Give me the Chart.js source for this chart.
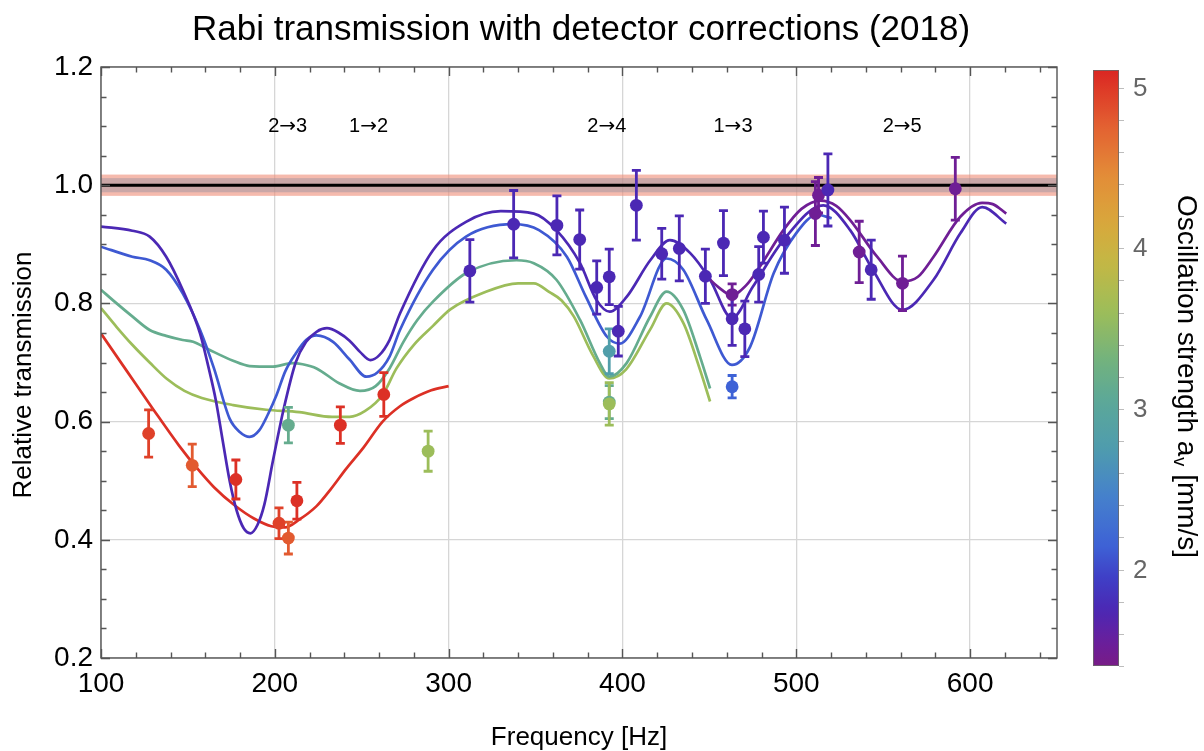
<!DOCTYPE html>
<html>
<head>
<meta charset="utf-8">
<script src="https://cdn.jsdelivr.net/npm/chart.js@4.4.1/dist/chart.umd.min.js"></script>
<style>
  html, body { margin: 0; padding: 0; background: #ffffff; }
  #wrap { width: 1204px; height: 751px; position: relative; }
</style>
</head>
<body>
<div id="wrap"><canvas id="chart"></canvas></div>
<script>
const FONT = '"Liberation Sans", Arial, Helvetica, sans-serif';
const ARROW_FONT = '"DejaVu Sans", sans-serif';

// ---- measured transmission points ----
const pointFreq     = [127.4, 152.5, 177.6, 202.4, 207.8, 212.7, 237.7, 262.7,
                       207.8, 288.2, 392.4, 392.4, 392.4, 463.1,
                       312.2, 337.4, 362.3, 375.4, 385.2, 392.4, 397.6, 408.0, 422.6, 432.7,
                       447.7, 458.1, 463.1, 463.1, 470.4, 478.4, 481.1, 493.2,
                       511.0, 512.8, 518.2, 536.2, 543.1, 561.1, 591.5];
const pointTrans    = [0.580, 0.526, 0.502, 0.428, 0.403, 0.466, 0.594, 0.646,
                       0.594, 0.550, 0.719, 0.633, 0.630, 0.659,
                       0.855, 0.934, 0.932, 0.908, 0.827, 0.845, 0.753, 0.966, 0.884, 0.893,
                       0.846, 0.902, 0.815, 0.774, 0.757, 0.849, 0.912, 0.907,
                       0.952, 0.983, 0.992, 0.887, 0.857, 0.834, 0.994];
const pointErr      = [0.040, 0.036, 0.033, 0.026, 0.027, 0.031, 0.031, 0.037,
                       0.030, 0.034, 0.038, 0.028, 0.036, 0.019,
                       0.053, 0.057, 0.050, 0.050, 0.045, 0.047, 0.042, 0.059, 0.043, 0.055,
                       0.046, 0.055, 0.018, 0.045, 0.047, 0.047, 0.044, 0.056,
                       0.054, 0.030, 0.061, 0.052, 0.050, 0.046, 0.053];
const pointStrength = [4.95, 4.80, 5.05, 4.95, 4.80, 5.05, 5.05, 5.05,
                       3.15, 3.60, 2.80, 3.15, 3.60, 2.15,
                       1.75, 1.75, 1.75, 1.75, 1.75, 1.75, 1.75, 1.75, 1.75, 1.75,
                       1.75, 1.75, 1.50, 1.75, 1.75, 1.75, 1.75, 1.75,
                       1.50, 1.50, 1.75, 1.50, 1.75, 1.50, 1.50];

// ---- model curves, one per oscillation strength ----
const redFreq   = [100, 115, 130, 145, 155, 165, 177, 188, 198, 206, 214, 224, 232, 241, 251, 262, 272, 280, 290, 300];
const redTrans  = [0.749, 0.685, 0.621, 0.559, 0.522, 0.489, 0.458, 0.436, 0.423, 0.421, 0.434, 0.457, 0.485, 0.520, 0.556, 0.600, 0.626, 0.640, 0.653, 0.660];

const yellowFreq  = [100, 109, 118, 128, 138, 148, 158, 176, 195, 214, 233, 243, 252, 262, 270, 280, 291, 301, 320, 340, 349, 358, 365, 372, 383, 392.4, 402, 416, 425.4, 435, 444.6, 450.4];
const yellowTrans = [0.792, 0.760, 0.730, 0.700, 0.672, 0.652, 0.640, 0.628, 0.620, 0.616, 0.608, 0.608, 0.618, 0.645, 0.690, 0.730, 0.762, 0.790, 0.818, 0.834, 0.834, 0.819, 0.805, 0.778, 0.712, 0.673, 0.688, 0.756, 0.800, 0.767, 0.688, 0.634];

const tealFreq  = [100, 109, 118, 128, 137.5, 147, 153, 162, 176, 185.5, 199, 210, 216, 224, 237, 249, 258, 266, 274, 282, 291, 310, 339, 349, 362, 375.6, 387, 392.4, 402.4, 415.8, 425.4, 435, 444.6, 450.4];
const tealTrans = [0.823, 0.800, 0.778, 0.755, 0.745, 0.738, 0.735, 0.722, 0.703, 0.694, 0.693, 0.699, 0.697, 0.690, 0.665, 0.652, 0.660, 0.690, 0.735, 0.772, 0.803, 0.851, 0.873, 0.868, 0.840, 0.772, 0.699, 0.676, 0.699, 0.777, 0.820, 0.789, 0.710, 0.656];

const blueFreq  = [100, 118, 128, 137.5, 147, 157, 165, 174, 180, 185.5, 191, 196, 201, 206, 212, 218, 224, 233.5, 243, 252.7, 259, 266, 272, 291, 310, 337, 352, 368, 379, 391, 398.5, 410, 425.4, 435, 448.5, 463, 473.5, 487, 500, 512, 520.4];
const blueTrans = [0.896, 0.879, 0.873, 0.857, 0.817, 0.755, 0.690, 0.605, 0.582, 0.574, 0.585, 0.612, 0.645, 0.685, 0.715, 0.738, 0.746, 0.735, 0.705, 0.676, 0.683, 0.710, 0.755, 0.857, 0.913, 0.934, 0.924, 0.879, 0.811, 0.744, 0.732, 0.777, 0.876, 0.857, 0.772, 0.696, 0.727, 0.851, 0.919, 0.950, 0.944];

const indigoFreq  = [100, 118, 128, 137.5, 147, 157, 162, 166, 170, 174, 178, 182, 186, 190, 194, 199, 205, 212, 218, 224, 230, 237, 243, 249, 255, 260, 266, 272, 291, 310, 330, 349, 362, 375.6, 385, 392.7, 402.4, 416, 427.3, 439, 450.4, 463, 475, 492.6, 515.6, 531, 544, 561, 579, 594.5, 607, 620.8];
const indigoTrans = [0.930, 0.923, 0.913, 0.879, 0.823, 0.749, 0.690, 0.637, 0.568, 0.500, 0.450, 0.420, 0.411, 0.425, 0.460, 0.535, 0.620, 0.700, 0.735, 0.752, 0.758, 0.750, 0.737, 0.718, 0.704, 0.712, 0.738, 0.783, 0.890, 0.938, 0.956, 0.952, 0.924, 0.868, 0.806, 0.786, 0.811, 0.873, 0.907, 0.885, 0.840, 0.775, 0.828, 0.907, 0.966, 0.924, 0.857, 0.789, 0.840, 0.919, 0.963, 0.935];

const purpleFreq  = [447.7, 455, 463, 471, 479, 492.6, 503, 514, 523, 531, 546.5, 561, 570, 579, 594.5, 606.9, 613, 620.8];
const purpleTrans = [0.848, 0.828, 0.814, 0.830, 0.862, 0.924, 0.960, 0.974, 0.965, 0.941, 0.879, 0.837, 0.845, 0.879, 0.947, 0.970, 0.968, 0.952];

const curveFreqs     = [redFreq, yellowFreq, tealFreq, blueFreq, indigoFreq, purpleFreq];
const curveTranss    = [redTrans, yellowTrans, tealTrans, blueTrans, indigoTrans, purpleTrans];
const curveStrengths = [5.05, 3.60, 3.15, 2.10, 1.75, 1.50];

// ---- axes, reference level, resonance annotations ----
const xTicks = [100, 200, 300, 400, 500, 600];
const yTicks = [0.2, 0.4, 0.6, 0.8, 1.0, 1.2];
const xRange = [100, 650];
const yRange = [0.2, 1.2];
const referenceLevel = 1.0;
const referenceOuter = 0.018;
const referenceInner = 0.012;
const transitionFrom  = ['2', '1', '2', '1', '2'];
const transitionTo    = ['3', '2', '4', '3', '5'];
const transitionFreq  = [207.4, 253.9, 391.0, 463.6, 560.9];
const transitionLevel = 1.10;
const barTicks = [2, 3, 4, 5];
const barRange = [1.4, 5.11];

// ---- rainbow colour scale over oscillation strength ----
const rainbowStops = [
  [1.40, [120, 28, 134]], [1.55, [106, 31, 156]], [1.75, [75, 40, 180]],
  [1.95, [63, 63, 198]],  [2.15, [62, 98, 214]],  [2.45, [69, 128, 204]],
  [2.75, [79, 156, 174]], [3.05, [92, 168, 152]], [3.30, [114, 178, 126]],
  [3.60, [156, 189, 90]], [3.90, [194, 184, 69]], [4.15, [216, 168, 60]],
  [4.45, [227, 141, 56]], [4.75, [227, 98, 50]],  [5.11, [219, 38, 34]]
];
function strengthColor(v) {
  if (v <= rainbowStops[0][0]) return 'rgb(' + rainbowStops[0][1].join(',') + ')';
  for (let i = 1; i < rainbowStops.length; i++) {
    const [v1, c1] = rainbowStops[i];
    const [v0, c0] = rainbowStops[i - 1];
    if (v <= v1) {
      const t = (v - v0) / (v1 - v0);
      const c = c0.map((a, k) => Math.round(a + (c1[k] - a) * t));
      return 'rgb(' + c.join(',') + ')';
    }
  }
  return 'rgb(' + rainbowStops[rainbowStops.length - 1][1].join(',') + ')';
}

// ---- datasets ----
const curveDatasets = curveFreqs.map((fs, k) => ({
  type: 'scatter',
  showLine: true,
  data: fs.map((f, i) => ({ x: f, y: curveTranss[k][i] })),
  borderColor: strengthColor(curveStrengths[k]),
  borderWidth: 2.7,
  pointRadius: 0,
  cubicInterpolationMode: 'monotone',
  fill: false,
  order: 10 - k
}));
const pointDataset = {
  type: 'scatter',
  data: pointFreq.map((f, i) => ({ x: f, y: pointTrans[i] })),
  backgroundColor: pointStrength.map(strengthColor),
  borderWidth: 0,
  pointRadius: 6.4,
  pointHoverRadius: 6.4,
  order: 0
};
const POINT_INDEX = curveDatasets.length;

// ---- drawing helpers ----
const decorations = {
  id: 'decorations',
  beforeDatasetsDraw(chart) {
    const { ctx, chartArea: a, scales: { y } } = chart;
    ctx.save();
    const yc = y.getPixelForValue(referenceLevel);
    const yo1 = y.getPixelForValue(referenceLevel + referenceOuter);
    const yo2 = y.getPixelForValue(referenceLevel - referenceOuter);
    const yi1 = y.getPixelForValue(referenceLevel + referenceInner);
    const yi2 = y.getPixelForValue(referenceLevel - referenceInner);
    ctx.fillStyle = 'rgba(238, 140, 118, 0.6)';
    ctx.fillRect(a.left, yo1, a.right - a.left, yo2 - yo1);
    ctx.fillStyle = 'rgba(150, 145, 160, 0.45)';
    ctx.fillRect(a.left, yi1, a.right - a.left, yi2 - yi1);
    ctx.strokeStyle = '#000000';
    ctx.lineWidth = 3;
    ctx.beginPath();
    ctx.moveTo(a.left, yc);
    ctx.lineTo(a.right, yc);
    ctx.stroke();
    ctx.restore();
  },
  beforeDatasetDraw(chart, args) {
    if (args.index !== POINT_INDEX) return;
    const { ctx, scales: { x, y } } = chart;
    ctx.save();
    ctx.lineWidth = 2.8;
    ctx.lineCap = 'butt';
    for (let i = 0; i < pointFreq.length; i++) {
      const px = x.getPixelForValue(pointFreq[i]);
      const top = y.getPixelForValue(pointTrans[i] + pointErr[i]);
      const bot = y.getPixelForValue(pointTrans[i] - pointErr[i]);
      ctx.strokeStyle = strengthColor(pointStrength[i]);
      ctx.beginPath();
      ctx.moveTo(px, top); ctx.lineTo(px, bot);
      ctx.moveTo(px - 4.5, top); ctx.lineTo(px + 4.5, top);
      ctx.moveTo(px - 4.5, bot); ctx.lineTo(px + 4.5, bot);
      ctx.stroke();
    }
    ctx.restore();
  },
  afterDatasetsDraw(chart) {
    const { ctx, chartArea: a, scales: { x, y } } = chart;
    ctx.save();
    // frame with inward ticks on all sides
    ctx.strokeStyle = '#555555';
    ctx.lineWidth = 1.4;
    ctx.strokeRect(a.left, a.top, a.right - a.left, a.bottom - a.top);
    ctx.beginPath();
    for (let f = xRange[0]; f <= xRange[1] + 1e-9; f += 20) {
      const px = Math.round(x.getPixelForValue(f)) + 0.5;
      const len = (Math.abs(f % 100) < 1e-6) ? 9 : 5.5;
      ctx.moveTo(px, a.bottom); ctx.lineTo(px, a.bottom - len);
      ctx.moveTo(px, a.top); ctx.lineTo(px, a.top + len);
    }
    for (let k = 0; k <= 20; k++) {
      const v = yRange[0] + k * 0.05;
      const py = Math.round(y.getPixelForValue(v)) + 0.5;
      const len = (k % 4 === 0) ? 9 : 5.5;
      ctx.moveTo(a.left, py); ctx.lineTo(a.left + len, py);
      ctx.moveTo(a.right, py); ctx.lineTo(a.right - len, py);
    }
    ctx.stroke();
    // resonance labels, e.g. 2→3
    ctx.fillStyle = '#000000';
    ctx.textBaseline = 'middle';
    ctx.textAlign = 'left';
    const digitFont = '20px ' + FONT, arrowFont = '20px ' + ARROW_FONT;
    transitionFrom.forEach((from, i) => {
      const cx = x.getPixelForValue(transitionFreq[i]);
      const cy = y.getPixelForValue(transitionLevel);
      ctx.font = digitFont;
      const wd = ctx.measureText(from).width;
      const wt = ctx.measureText(transitionTo[i]).width;
      ctx.font = arrowFont;
      const wa = ctx.measureText('\u2192').width;
      let sx = cx - (wd + wa + wt) / 2;
      ctx.font = digitFont;
      ctx.fillText(from, sx, cy); sx += wd;
      ctx.font = arrowFont;
      ctx.fillText('\u2192', sx, cy + 1); sx += wa;
      ctx.font = digitFont;
      ctx.fillText(transitionTo[i], sx, cy);
    });
    ctx.restore();
  },
  afterDraw(chart) {
    const { ctx, chartArea: a } = chart;
    ctx.save();
    // title
    ctx.fillStyle = '#000000';
    ctx.textAlign = 'center';
    ctx.textBaseline = 'middle';
    ctx.font = '35px ' + FONT;
    ctx.fillText('Rabi transmission with detector corrections (2018)', 581, 30);
    // axis titles
    ctx.font = '26px ' + FONT;
    ctx.fillText('Frequency [Hz]', (a.left + a.right) / 2, 738);
    ctx.save();
    ctx.translate(24, 375);
    ctx.rotate(-Math.PI / 2);
    ctx.fillText('Relative transmission', 0, 0);
    ctx.restore();

    // colour bar
    const bx = 1093, bw = 26, bTop = 70, bBot = 666;
    const vToY = v => bBot - (v - barRange[0]) / (barRange[1] - barRange[0]) * (bBot - bTop);
    const grad = ctx.createLinearGradient(0, bBot, 0, bTop);
    for (let k = 0; k <= 60; k++) {
      const v = barRange[0] + (barRange[1] - barRange[0]) * k / 60;
      grad.addColorStop(k / 60, strengthColor(v));
    }
    ctx.fillStyle = grad;
    ctx.fillRect(bx, bTop, bw, bBot - bTop);
    ctx.strokeStyle = '#6a6a6a';
    ctx.lineWidth = 0.8;
    ctx.strokeRect(bx + 0.5, bTop + 0.5, bw - 1, bBot - bTop - 1);
    ctx.strokeStyle = '#bdbdbd';
    ctx.lineWidth = 1;
    ctx.beginPath();
    for (let v = 1.4; v <= barRange[1] + 1e-9; v += 0.2) {
      const py = Math.round(vToY(v)) + 0.5;
      ctx.moveTo(bx + bw, py); ctx.lineTo(bx + bw + 5, py);
    }
    ctx.stroke();
    ctx.fillStyle = '#666666';
    ctx.font = '26px ' + FONT;
    ctx.textAlign = 'left';
    ctx.textBaseline = 'middle';
    barTicks.forEach(v => ctx.fillText(String(v), bx + bw + 14, vToY(v) + 1));

    // colour bar title: Oscillation strength a_v [mm/s]
    ctx.save();
    ctx.translate(1186, 376);
    ctx.rotate(Math.PI / 2);
    ctx.fillStyle = '#000000';
    const big = '28px ' + FONT, small = '18px ' + FONT;
    const p1 = 'Oscillation strength a', p2 = 'v', p3 = ' [mm/s]';
    ctx.font = big; const w1 = ctx.measureText(p1).width; const w3 = ctx.measureText(p3).width;
    ctx.font = small; const w2 = ctx.measureText(p2).width;
    let sx = -(w1 + w2 + w3) / 2;
    ctx.textAlign = 'left';
    ctx.textBaseline = 'middle';
    ctx.font = big; ctx.fillText(p1, sx, 0); sx += w1;
    ctx.font = small; ctx.fillText(p2, sx + 1, 7); sx += w2 + 1;
    ctx.font = big; ctx.fillText(p3, sx, 0);
    ctx.restore();
    ctx.restore();
  }
};

new Chart(document.getElementById('chart'), {
  type: 'scatter',
  data: { datasets: [...curveDatasets, pointDataset] },
  options: {
    responsive: true,
    maintainAspectRatio: false,
    animation: false,
    events: [],
    layout: { padding: { left: 0, top: 67, right: 147, bottom: 0 } },
    plugins: { legend: { display: false }, tooltip: { enabled: false }, title: { display: false } },
    scales: {
      x: {
        type: 'linear', min: xRange[0], max: xRange[1],
        afterBuildTicks: s => { s.ticks = xTicks.map(v => ({ value: v })); },
        afterFit: s => { s.height = 93; },
        grid: { color: '#d6d6d6', lineWidth: 1.3, drawTicks: false },
        border: { display: false },
        ticks: { color: '#000000', font: { family: FONT, size: 28 }, padding: 9, maxRotation: 0 }
      },
      y: {
        type: 'linear', min: yRange[0], max: yRange[1],
        afterBuildTicks: s => { s.ticks = yTicks.map(v => ({ value: v })); },
        afterFit: s => { s.width = 101; },
        grid: { color: '#d6d6d6', lineWidth: 1.3, drawTicks: false },
        border: { display: false },
        ticks: { color: '#000000', font: { family: FONT, size: 28 }, padding: 8,
                 callback: v => v.toFixed(1) }
      }
    }
  },
  plugins: [decorations]
});
</script>
</body>
</html>
